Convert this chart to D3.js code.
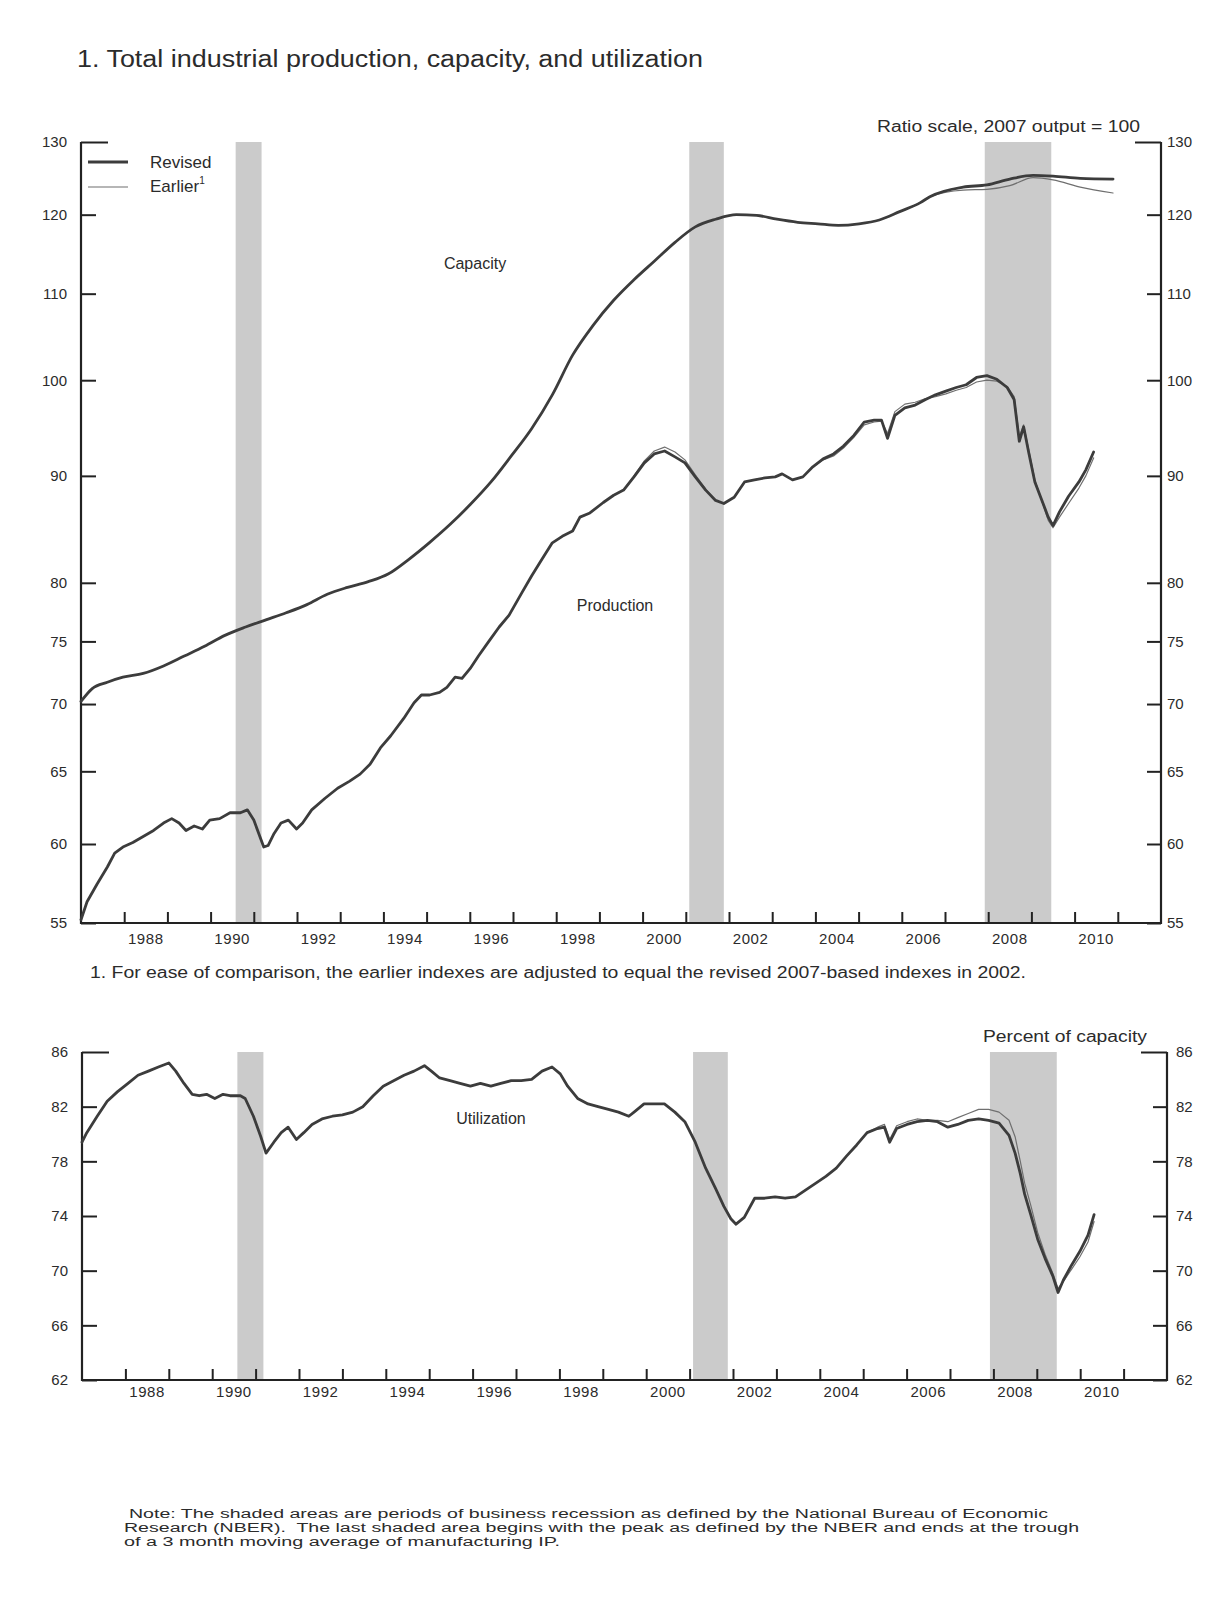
<!DOCTYPE html>
<html>
<head>
<meta charset="utf-8">
<script src="https://cdn.jsdelivr.net/npm/d3@7"></script>
<style>
  html, body { margin: 0; padding: 0; background: #ffffff; }
  svg text { font-family: "Liberation Sans", Arial, Helvetica, sans-serif; fill: #2b2b2b; }
</style>
</head>
<body>
<svg id="chart" width="1225" height="1604"></svg>
<script>
// ---- Recession periods (NBER), decimal years ----
const recessions = [[1990.58, 1991.18], [2001.08, 2001.88], [2007.92, 2009.46]];

// ---- Axis labels ----
const yearTicks = [1988, 1989, 1990, 1991, 1992, 1993, 1994, 1995, 1996, 1997, 1998, 1999,
                   2000, 2001, 2002, 2003, 2004, 2005, 2006, 2007, 2008, 2009, 2010, 2011];
const yearLabels = [1988, 1990, 1992, 1994, 1996, 1998, 2000, 2002, 2004, 2006, 2008, 2010];
const indexTicks = [55, 60, 65, 70, 75, 80, 90, 100, 110, 120, 130];
const utilTicks = [62, 66, 70, 74, 78, 82, 86];

// ---- Industrial production, revised (2007 = 100) ----
const prodDates = [1987.00,1987.14,1987.37,1987.61,1987.78,1987.97,1988.20,1988.44,1988.68,1988.91,
  1989.10,1989.27,1989.43,1989.62,1989.81,1989.98,1990.21,1990.45,1990.69,1990.85,
  1991.00,1991.14,1991.23,1991.33,1991.47,1991.63,1991.80,1991.99,1992.13,1992.34,
  1992.65,1992.94,1993.22,1993.46,1993.69,1993.93,1994.17,1994.47,1994.71,1994.88,
  1995.07,1995.30,1995.47,1995.66,1995.82,1996.01,1996.20,1996.44,1996.68,1996.91,
  1997.20,1997.43,1997.67,1997.91,1998.14,1998.38,1998.55,1998.78,1999.09,1999.33,
  1999.56,1999.80,2000.04,2000.27,2000.51,2000.75,2000.98,2001.22,2001.46,2001.69,
  2001.88,2002.12,2002.36,2002.59,2002.83,2003.07,2003.23,2003.47,2003.71,2003.94,
  2004.18,2004.42,2004.65,2004.89,2005.13,2005.36,2005.53,2005.67,2005.84,2006.07,
  2006.31,2006.55,2006.78,2007.02,2007.26,2007.49,2007.73,2007.97,2008.20,2008.44,
  2008.60,2008.72,2008.82,2008.94,2009.08,2009.27,2009.39,2009.50,2009.65,2009.86,
  2010.10,2010.26,2010.44];
const prodRevised = [55.2,56.3,57.4,58.5,59.4,59.8,60.1,60.5,60.9,61.4,
  61.7,61.4,60.9,61.2,61.0,61.6,61.7,62.1,62.1,62.3,
  61.6,60.5,59.8,59.9,60.7,61.4,61.6,61.0,61.4,62.3,
  63.1,63.8,64.3,64.8,65.5,66.7,67.6,68.9,70.1,70.7,
  70.7,70.9,71.3,72.1,72.0,72.8,73.8,75.0,76.2,77.2,
  79.1,80.6,82.1,83.6,84.2,84.7,86.0,86.4,87.4,88.1,
  88.6,89.9,91.3,92.2,92.5,91.9,91.3,89.9,88.6,87.6,
  87.3,87.9,89.4,89.6,89.8,89.9,90.2,89.6,89.9,90.9,
  91.7,92.2,93.0,94.1,95.5,95.7,95.7,93.8,96.2,97.0,
  97.3,97.9,98.4,98.8,99.2,99.5,100.3,100.5,100.1,99.2,
  97.9,93.5,95.0,92.3,89.4,87.3,86.0,85.2,86.5,88.0,
  89.4,90.6,92.4];

// ---- Industrial production, earlier estimates ----
const prodEarlierDates = [1999.56,1999.80,2000.04,2000.27,2000.51,2000.75,2000.98,2001.22,2001.46,2001.69,
  2001.88,2002.12,2002.36,2002.59,2002.83,2003.07,2003.23,2003.47,2003.71,2003.94,
  2004.18,2004.42,2004.65,2004.89,2005.13,2005.36,2005.53,2005.67,2005.84,2006.07,
  2006.31,2006.55,2006.78,2007.02,2007.26,2007.49,2007.73,2007.97,2008.20,2008.44,
  2008.60,2008.72,2008.82,2008.94,2009.08,2009.27,2009.39,2009.50,2009.65,2009.86,
  2010.10,2010.26,2010.44];
const prodEarlier = [88.6,90.0,91.5,92.5,92.9,92.4,91.6,90.1,88.7,87.6,
  87.3,87.9,89.4,89.6,89.8,89.9,90.2,89.6,89.9,90.9,
  91.6,92.0,92.8,93.9,95.2,95.5,95.6,94.3,96.6,97.4,
  97.6,98.0,98.2,98.5,98.9,99.2,99.8,100.0,99.9,99.3,
  98.2,94.0,95.2,92.6,89.6,87.2,85.7,85.0,86.0,87.3,
  88.8,90.0,91.8];

// ---- Capacity, revised ----
const capDates = [1987.00,1987.26,1987.61,1987.97,1988.44,1988.91,1989.39,1989.86,1990.33,1990.81,
  1991.28,1991.75,1992.23,1992.70,1993.17,1993.65,1994.12,1994.59,1995.06,1995.54,
  1996.01,1996.49,1996.96,1997.43,1997.91,1998.38,1998.85,1999.33,1999.80,2000.27,
  2000.75,2001.22,2001.69,2002.17,2002.64,2003.11,2003.59,2004.06,2004.53,2005.01,
  2005.48,2005.95,2006.43,2006.65,2007.42,2007.97,2008.50,2009.04,2009.50,2010.13,
  2010.89];
const capRevised = [70.2,71.2,71.7,72.1,72.4,73.0,73.8,74.6,75.5,76.2,
  76.8,77.4,78.1,79.0,79.6,80.1,80.8,82.1,83.6,85.3,
  87.2,89.4,92.0,94.8,98.4,102.8,106.2,109.2,111.7,114.0,
  116.4,118.4,119.4,120.0,119.9,119.4,119.0,118.8,118.6,118.8,
  119.3,120.4,121.6,122.4,123.7,124.0,124.8,125.3,125.2,124.9,
  124.8];

// ---- Capacity, earlier estimates ----
const capEarlierDates = [2005.95,2006.43,2006.65,2007.42,2007.97,2008.50,2009.04,2009.50,2010.13,2010.89];
const capEarlier = [120.4,121.6,122.4,123.3,123.4,123.9,125.0,124.7,123.7,122.9];

// ---- Capacity utilization, revised (percent) ----
const utilDates = [1987.00,1987.11,1987.35,1987.58,1987.82,1988.06,1988.29,1988.53,1988.76,1989.00,
  1989.16,1989.35,1989.54,1989.70,1989.87,1990.06,1990.25,1990.41,1990.65,1990.76,
  1990.95,1991.12,1991.24,1991.42,1991.59,1991.75,1991.94,1992.11,1992.30,1992.53,
  1992.77,1993.00,1993.24,1993.47,1993.71,1993.94,1994.18,1994.42,1994.65,1994.89,
  1995.05,1995.24,1995.48,1995.71,1995.95,1996.18,1996.42,1996.65,1996.89,1997.12,
  1997.36,1997.60,1997.83,1998.02,1998.19,1998.42,1998.66,1998.89,1999.13,1999.36,
  1999.60,1999.72,1999.95,2000.19,2000.42,2000.66,2000.89,2001.13,2001.37,2001.60,
  2001.79,2001.95,2002.07,2002.26,2002.50,2002.73,2002.97,2003.20,2003.44,2003.67,
  2003.91,2004.14,2004.38,2004.62,2004.85,2005.09,2005.33,2005.49,2005.61,2005.77,
  2006.01,2006.24,2006.48,2006.71,2006.95,2007.18,2007.42,2007.66,2007.89,2008.13,
  2008.36,2008.50,2008.62,2008.72,2008.86,2009.02,2009.19,2009.37,2009.49,2009.61,
  2009.80,2009.99,2010.18,2010.32];
const utilRevised = [79.4,80.1,81.3,82.4,83.1,83.7,84.3,84.6,84.9,85.2,
  84.6,83.7,82.9,82.8,82.9,82.6,82.9,82.8,82.8,82.6,
  81.3,79.8,78.6,79.4,80.1,80.5,79.6,80.1,80.7,81.1,
  81.3,81.4,81.6,82.0,82.8,83.5,83.9,84.3,84.6,85.0,
  84.6,84.1,83.9,83.7,83.5,83.7,83.5,83.7,83.9,83.9,
  84.0,84.6,84.9,84.4,83.5,82.6,82.2,82.0,81.8,81.6,
  81.3,81.6,82.2,82.2,82.2,81.6,80.9,79.4,77.5,76.0,
  74.7,73.8,73.4,73.9,75.3,75.3,75.4,75.3,75.4,75.9,
  76.4,76.9,77.5,78.4,79.2,80.1,80.4,80.5,79.4,80.4,
  80.7,80.9,81.0,80.9,80.5,80.7,81.0,81.1,81.0,80.8,
  79.9,78.6,77.1,75.6,74.1,72.3,70.9,69.6,68.4,69.3,
  70.4,71.4,72.6,74.1];

// ---- Capacity utilization, earlier estimates ----
const utilEarlierDates = [2004.85,2005.09,2005.33,2005.49,2005.61,2005.77,2006.01,2006.24,2006.48,2006.71,
  2006.95,2007.18,2007.42,2007.66,2007.89,2008.13,2008.36,2008.50,2008.62,2008.72,
  2008.86,2009.02,2009.19,2009.37,2009.49,2009.61,2009.80,2009.99,2010.18,2010.32];
const utilEarlier = [79.2,80.1,80.5,80.7,79.6,80.6,80.9,81.1,81.0,81.0,
  80.9,81.2,81.5,81.8,81.8,81.6,81.0,79.8,78.0,76.4,
  74.8,72.8,71.2,69.8,68.7,69.2,70.1,71.0,72.1,73.6];

// ---- Styles ----
const INK = "#222";
const REVISED = { stroke: "#3c3c3c", width: 2.8 };
const EARLIER = { stroke: "#6f6f6f", width: 1.2 };
const BAR_FILL = "#cbcbcb";

const svg = d3.select("#chart");
svg.append("rect").attr("width", 1225).attr("height", 1604).attr("fill", "#fff");

// Title
svg.append("text")
  .attr("x", 77).attr("y", 67)
  .attr("font-size", 23)
  .attr("textLength", 626).attr("lengthAdjust", "spacingAndGlyphs")
  .text("1. Total industrial production, capacity, and utilization");

// Draws one framed panel: recession bars, frame, ticks and labels
function drawPanel(cfg) {
  const { x, y, ticks, leftPad, rightPad, labelBaseline } = cfg;
  const [x0, x1] = x.range();
  const [yb, yt] = y.range();
  const g = svg.append("g");

  g.selectAll("rect.recession")
    .data(recessions)
    .join("rect")
    .attr("class", "recession")
    .attr("x", d => x(d[0]))
    .attr("width", d => x(d[1]) - x(d[0]))
    .attr("y", yt)
    .attr("height", yb - yt)
    .attr("fill", BAR_FILL);

  const top = d3.max(ticks);
  const styleAxis = sel => {
    sel.select(".domain").remove();
    sel.selectAll(".tick line").attr("stroke", INK).attr("stroke-width", 2);
    sel.selectAll(".tick text")
      .attr("font-size", 15)
      .attr("font-family", "'Liberation Sans', Arial, sans-serif")
      .attr("fill", "#2b2b2b");
  };

  // Left axis: ticks point inward
  const gl = g.append("g").attr("transform", `translate(${x0},0)`)
    .call(d3.axisLeft(y).tickValues(ticks).tickSize(-15).tickPadding(leftPad).tickFormat(d3.format("d")))
    .call(styleAxis);
  gl.selectAll(".tick").filter(d => d === top).select("line").attr("x2", 27);

  // Right axis
  const gr = g.append("g").attr("transform", `translate(${x1},0)`)
    .call(d3.axisRight(y).tickValues(ticks).tickSize(-14).tickPadding(rightPad).tickFormat(d3.format("d")))
    .call(styleAxis);
  gr.selectAll(".tick").filter(d => d === top).select("line").attr("x2", -26);

  // Bottom axis: yearly ticks pointing up
  g.append("g").attr("transform", `translate(0,${yb})`)
    .call(d3.axisBottom(x).tickValues(yearTicks).tickSize(-11).tickFormat(""))
    .call(styleAxis);

  // Frame: left, right and bottom rules
  g.append("path")
    .attr("d", `M${x0},${yt} V${yb} H${x1} V${yt}`)
    .attr("fill", "none").attr("stroke", INK).attr("stroke-width", 2.2);

  // Year labels centred within each labelled year
  g.selectAll("text.year")
    .data(yearLabels)
    .join("text")
    .attr("class", "year")
    .attr("x", d => x(d + 0.5))
    .attr("y", labelBaseline)
    .attr("text-anchor", "middle")
    .attr("font-size", 15)
    .attr("letter-spacing", 0.6)
    .text(d => d);
  return g;
}

function drawSeries(x, y, dates, values, style, curve) {
  const line = d3.line().x(d => x(d[0])).y(d => y(d[1])).curve(curve || d3.curveLinear);
  svg.append("path")
    .datum(d3.zip(dates, values))
    .attr("d", line)
    .attr("fill", "none")
    .attr("stroke", style.stroke)
    .attr("stroke-width", style.width)
    .attr("stroke-linejoin", "round")
    .attr("stroke-linecap", "round");
}

// ================= Panel 1: production and capacity (ratio scale) =================
const xTop = d3.scaleLinear().domain([1987, 2012]).range([81, 1161]);
const yTop = d3.scaleLog().domain([55, 130]).range([923, 142]);

drawPanel({ x: xTop, y: yTop, ticks: indexTicks, leftPad: 14, rightPad: 6, labelBaseline: 944 });

drawSeries(xTop, yTop, capEarlierDates, capEarlier, EARLIER, d3.curveMonotoneX);
drawSeries(xTop, yTop, capDates, capRevised, REVISED, d3.curveMonotoneX);
drawSeries(xTop, yTop, prodEarlierDates, prodEarlier, EARLIER);
drawSeries(xTop, yTop, prodDates, prodRevised, REVISED);

svg.append("text").attr("x", 877).attr("y", 132).attr("font-size", 16)
  .attr("textLength", 263).attr("lengthAdjust", "spacingAndGlyphs")
  .text("Ratio scale, 2007 output = 100");

// Legend
const legend = svg.append("g");
legend.append("line").attr("x1", 88).attr("x2", 128).attr("y1", 162).attr("y2", 162)
  .attr("stroke", REVISED.stroke).attr("stroke-width", REVISED.width);
legend.append("line").attr("x1", 88).attr("x2", 128).attr("y1", 187).attr("y2", 187)
  .attr("stroke", EARLIER.stroke).attr("stroke-width", EARLIER.width);
legend.append("text").attr("x", 150).attr("y", 168).attr("font-size", 17).attr("fill", "#555").text("Revised");
const earlierText = legend.append("text").attr("x", 150).attr("y", 192).attr("font-size", 17);
earlierText.append("tspan").text("Earlier");
earlierText.append("tspan").attr("font-size", 10).attr("dy", -8).text("1");

svg.append("text").attr("x", 475).attr("y", 269).attr("text-anchor", "middle").attr("font-size", 16).text("Capacity");
svg.append("text").attr("x", 615).attr("y", 611).attr("text-anchor", "middle").attr("font-size", 16).text("Production");

svg.append("text").attr("x", 90).attr("y", 978).attr("font-size", 16)
  .attr("textLength", 936).attr("lengthAdjust", "spacingAndGlyphs")
  .text("1. For ease of comparison, the earlier indexes are adjusted to equal the revised 2007-based indexes in 2002.");

// ================= Panel 2: capacity utilization =================
const xBot = d3.scaleLinear().domain([1987, 2012]).range([82, 1167]);
const yBot = d3.scaleLinear().domain([62, 86]).range([1380, 1052]);

drawPanel({ x: xBot, y: yBot, ticks: utilTicks, leftPad: 14, rightPad: 9, labelBaseline: 1397 });

drawSeries(xBot, yBot, utilEarlierDates, utilEarlier, EARLIER);
drawSeries(xBot, yBot, utilDates, utilRevised, REVISED);

svg.append("text").attr("x", 983).attr("y", 1042).attr("font-size", 16)
  .attr("textLength", 164).attr("lengthAdjust", "spacingAndGlyphs")
  .text("Percent of capacity");
svg.append("text").attr("x", 491).attr("y", 1124).attr("text-anchor", "middle").attr("font-size", 16).text("Utilization");

// ================= Note =================
const noteLines = [
  { x: 129, len: 919, t: "Note: The shaded areas are periods of business recession as defined by the National Bureau of Economic" },
  { x: 124, len: 955, t: "Research (NBER).  The last shaded area begins with the peak as defined by the NBER and ends at the trough" },
  { x: 124, len: 436, t: "of a 3 month moving average of manufacturing IP." }
];
svg.selectAll("text.note")
  .data(noteLines)
  .join("text")
  .attr("class", "note")
  .attr("x", d => d.x)
  .attr("y", (d, i) => 1518 + i * 14)
  .attr("font-size", 12)
  .attr("textLength", d => d.len)
  .attr("lengthAdjust", "spacingAndGlyphs")
  .attr("xml:space", "preserve")
  .text(d => d.t);
</script>
</body>
</html>
